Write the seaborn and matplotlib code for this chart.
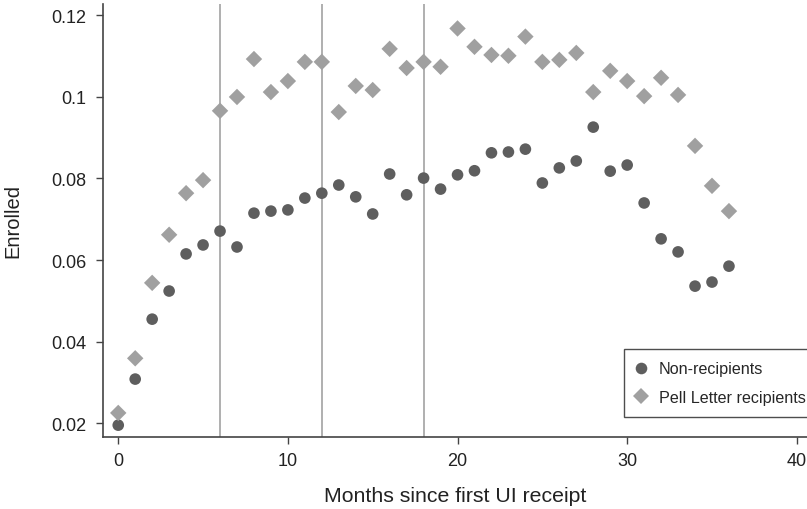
import pandas as pd
import matplotlib
matplotlib.use("Agg")
import matplotlib.pyplot as plt
import seaborn as sns

# Months since first UI receipt
months = list(range(37))

# Enrollment rates
non_recipients = [
    0.0195, 0.0308, 0.0455, 0.0524, 0.0615, 0.0637, 0.0671, 0.0632, 0.0715, 0.0720,
    0.0723, 0.0752, 0.0764, 0.0784, 0.0755, 0.0713, 0.0811, 0.0760, 0.0801, 0.0774,
    0.0809, 0.0819, 0.0863, 0.0865, 0.0872, 0.0789, 0.0826, 0.0843, 0.0926, 0.0818,
    0.0833, 0.0740, 0.0652, 0.0620, 0.0536, 0.0546, 0.0585,
]
pell_recipients = [
    0.0225, 0.0359, 0.0544, 0.0662, 0.0764, 0.0796, 0.0966, 0.1000, 0.1093, 0.1012,
    0.1039, 0.1086, 0.1086, 0.0963, 0.1027, 0.1017, 0.1118, 0.1071, 0.1086, 0.1074,
    0.1168, 0.1123, 0.1103, 0.1101, 0.1148, 0.1086, 0.1091, 0.1108, 0.1012, 0.1064,
    0.1039, 0.1002, 0.1047, 0.1005, 0.0880, 0.0782, 0.0720,
]
group_names = ["Non-recipients", "Pell Letter recipients"]
ref_months = [6, 12, 18]

df = pd.DataFrame({
    "month": months * 2,
    "enrolled": non_recipients + pell_recipients,
    "group": [group_names[0]] * len(months) + [group_names[1]] * len(months),
})

sns.set_style("ticks")
plt.rcParams["font.family"] = ["Liberation Sans", "DejaVu Sans"]

fig = plt.figure(figsize=(8.07, 5.10), dpi=100)
ax = fig.add_axes([0.1276, 0.1412, 0.8724, 0.8490])

for m in ref_months:
    ax.axvline(m, color="#9a9a9a", lw=1.1, zorder=1)

sns.scatterplot(
    data=df, x="month", y="enrolled", hue="group", style="group",
    palette={group_names[0]: "#5e5e5e", group_names[1]: "#a0a0a0"},
    markers={group_names[0]: "o", group_names[1]: "D"},
    s=70, edgecolor="none", linewidth=0, ax=ax, zorder=3,
)

ax.set_xlim(-0.9, 40.6)
ax.set_ylim(0.0166, 0.1228)
ax.set_xticks([0, 10, 20, 30, 40])
ax.set_yticks([0.02, 0.04, 0.06, 0.08, 0.1, 0.12])
ax.set_yticklabels(["0.02", "0.04", "0.06", "0.08", "0.1", "0.12"])
ax.tick_params(labelsize=13, colors="#444444", labelcolor="#222222",
               length=5, width=1, direction="out")
ax.tick_params(axis="y", pad=7)
ax.tick_params(axis="x", pad=6)

ax.set_xlabel("Months since first UI receipt", fontsize=15.3, color="#222222")
ax.set_ylabel("Enrolled", fontsize=14.5, color="#222222")
ax.xaxis.set_label_coords(0.5, -0.114)
ax.yaxis.set_label_coords(-0.115, 0.5)

sns.despine(ax=ax)
for side in ["left", "bottom"]:
    ax.spines[side].set_color("#444444")
    ax.spines[side].set_linewidth(1.2)

ax.get_legend().remove()
leg = fig.legend(
    *ax.get_legend_handles_labels(),
    loc="lower left", bbox_to_anchor=(0.7732, 0.1804), bbox_transform=fig.transFigure,
    fontsize=11.6, frameon=True, fancybox=False, edgecolor="#222222",
    handletextpad=0.8, borderpad=0.75, labelspacing=0.85, handlelength=0.6,
    borderaxespad=0,
)
leg.get_frame().set_linewidth(1.0)

fig.savefig("out.png", dpi=100)
